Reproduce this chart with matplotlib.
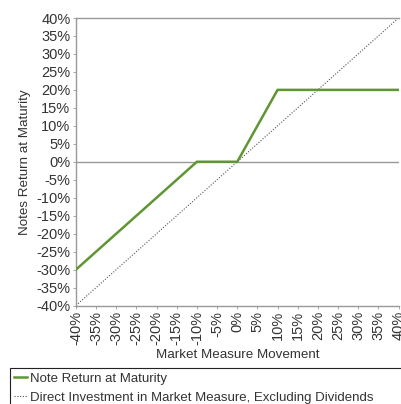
import matplotlib
matplotlib.use("Agg")
import matplotlib.pyplot as plt
from matplotlib.patches import Rectangle

# payoff profile (market move in %, return in %)
market_move = [-40, -10, 0, 10, 40]
note_return = [-30, 0, 0, 20, 20]
direct_move = [-40, 40]
direct_return = [-40, 40]
ticks = list(range(-40, 45, 5))
tick_labels = [f"{t}%" for t in ticks]

plt.rcParams["font.family"] = ["Liberation Sans", "DejaVu Sans"]

GREEN = "#5f9632"
GRAY = "#999999"
TXT = "#333333"

fig = plt.figure(figsize=(4.01, 4.04), dpi=100)
ax = fig.add_axes([76 / 401, 1 - 305.5 / 404, (398.5 - 76) / 401, (305.5 - 18) / 404])

ax.plot(market_move, note_return, color=GREEN, lw=1.8, label="Note Return at Maturity",
        solid_joinstyle="miter", zorder=3)
ax.plot(direct_move, direct_return, color="#555555", lw=0.8, ls=(0, (1, 1.5)),
        label="Direct Investment in Market Measure, Excluding Dividends", zorder=2)
ax.axhline(0, color=GRAY, lw=1.0, zorder=1)

ax.set_xlim(-40, 40)
ax.set_ylim(-40, 40)
ax.set_xticks(ticks)
ax.set_xticklabels(tick_labels, rotation=90)
ax.set_yticks(ticks)
ax.set_yticklabels(tick_labels)
ax.tick_params(axis="both", labelsize=10.5, labelcolor=TXT, color=GRAY,
               length=2, width=0.6, pad=2)

for side in ["left", "top", "bottom"]:
    ax.spines[side].set_color(GRAY)
    ax.spines[side].set_linewidth(1.0)
ax.spines["right"].set_visible(False)

ax.set_xlabel("Market Measure Movement", fontsize=9.6, color=TXT, labelpad=3)
ax.set_ylabel("Notes Return at Maturity", fontsize=9.6, color=TXT, labelpad=4)

# legend box runs off the right/bottom edge in the reference
fig.patches.append(Rectangle((10 / 401, -0.02), 1.0, 1 - 368 / 404 + 0.02,
                             transform=fig.transFigure, fill=False,
                             edgecolor="#222222", lw=0.8))
h, l = ax.get_legend_handles_labels()
fig.legend(h, l, loc="upper left", bbox_to_anchor=(9 / 401, 1 - 367 / 404),
           frameon=False, fontsize=9.5, handlelength=1.0, handletextpad=0.2,
           labelspacing=0.55, borderaxespad=0, labelcolor=TXT)

fig.savefig("out.png", dpi=100)
